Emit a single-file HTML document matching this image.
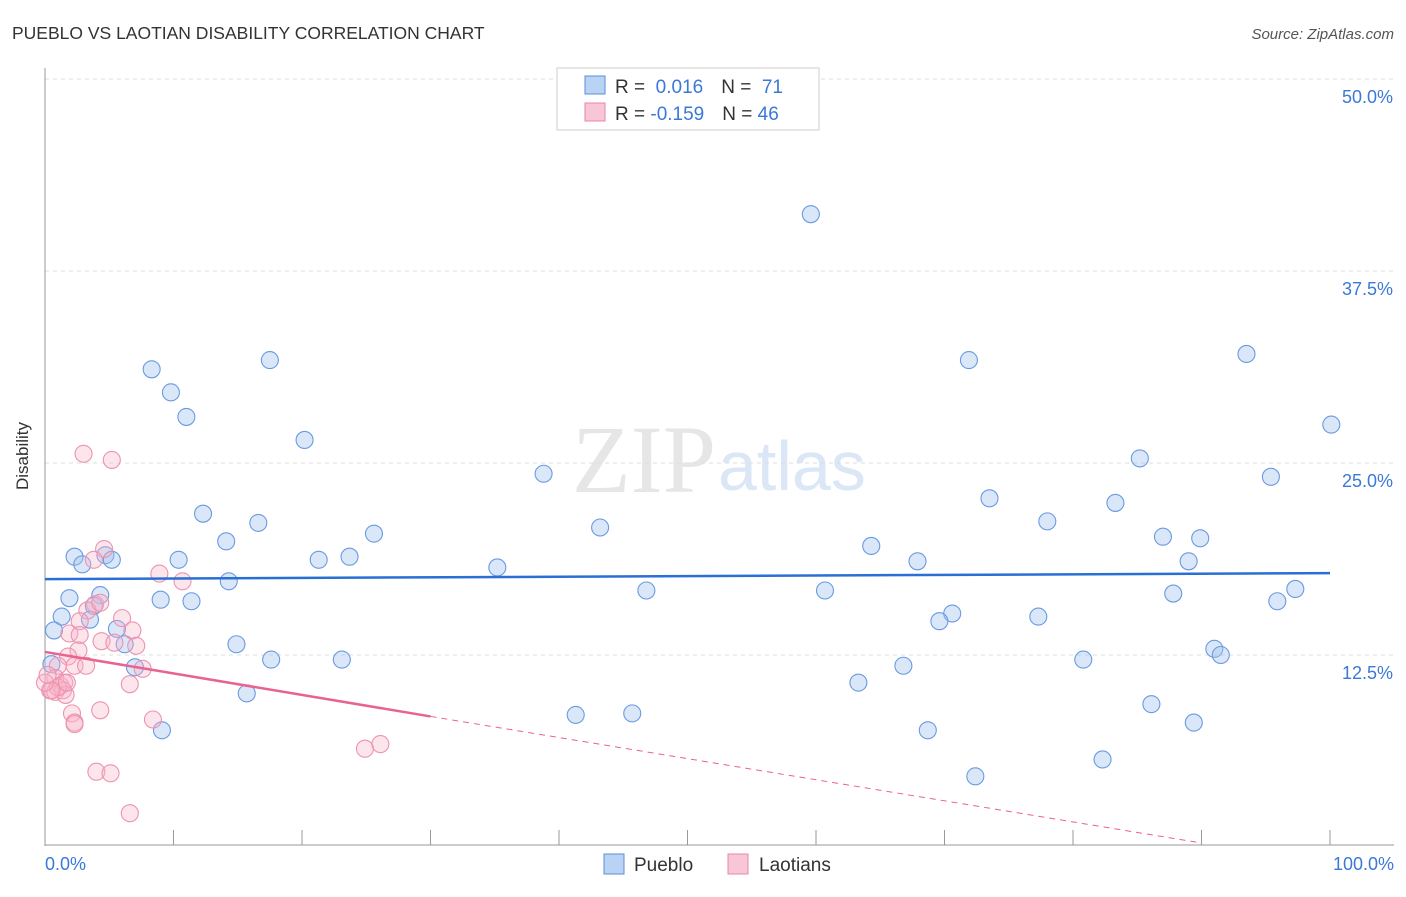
<!DOCTYPE html>
<html><head><meta charset="utf-8"><style>
body{margin:0;background:#fff;font-family:"Liberation Sans",sans-serif}
</style></head><body>
<svg id="c" width="1406" height="892" xmlns="http://www.w3.org/2000/svg" style="font-family:'Liberation Sans',sans-serif">
<text x="12" y="39" font-size="17.5" fill="#333">PUEBLO VS LAOTIAN DISABILITY CORRELATION CHART</text>
<text x="1394" y="39" font-size="15" fill="#555" text-anchor="end" font-style="italic">Source: ZipAtlas.com</text>
<text x="716" y="492" font-size="96" fill="#e6e6e6" text-anchor="end" font-family="Liberation Serif,serif">ZIP</text>
<text x="718" y="490" font-size="70" fill="#dbe6f6">atlas</text>
<g id="grid"></g>
<line x1="45" y1="68" x2="45" y2="846" stroke="#999"/>
<line x1="45" y1="845" x2="1394" y2="845" stroke="#999"/>
<text x="28" y="456" font-size="17" fill="#333" transform="rotate(-90 28 456)" text-anchor="middle">Disability</text>
<text x="45" y="870" font-size="18" fill="#3b78d8">0.0%</text>
<text x="1394" y="870" font-size="18" fill="#3b78d8" text-anchor="end">100.0%</text>
<g id="pts"></g>
<g id="trend"></g>
<g>
<rect x="557" y="68" width="262" height="62" fill="#fff" stroke="#ccc"/>
<rect x="585" y="76" width="20" height="18" fill="#b9d3f5" stroke="#5b8fd8"/>
<rect x="585" y="103" width="20" height="18" fill="#f9c6d6" stroke="#e886a7"/>
<text x="615" y="93" font-size="19" fill="#333">R = <tspan fill="#3b78d8">&#160;0.016</tspan><tspan dx="18">N = </tspan><tspan fill="#3b78d8">&#160;71</tspan></text>
<text x="615" y="120" font-size="19" fill="#333">R = <tspan fill="#3b78d8">-0.159</tspan><tspan dx="18">N = </tspan><tspan fill="#3b78d8">46</tspan></text>
</g>
<g>
<rect x="604" y="854" width="20" height="20" fill="#b9d3f5" stroke="#5b8fd8"/>
<text x="634" y="871" font-size="19" fill="#333">Pueblo</text>
<rect x="728" y="854" width="20" height="20" fill="#f9c6d6" stroke="#e886a7"/>
<text x="759" y="871" font-size="19" fill="#333">Laotians</text>
</g>
</svg>
<script>
const yTicks=[12.5,25,37.5,50];
const blueX=[59.6,8.3,17.5,9.8,11,20.2,71.9,93.5,100.1,38.8,85.2,95.4,73.5,12.3,16.6,78,83.3,43.2,25.6,14.1,87,89.9,2.3,4.7,5.2,2.9,10.4,21.3,23.7,35.2,64.3,67.9,89,14.3,46.8,60.7,87.8,97.3,1.9,4.3,9,11.4,3.8,1.3,3.5,70.6,69.6,77.3,95.9,0.7,5.6,6.2,14.9,91,91.5,17.6,23.1,80.8,0.5,7,66.8,63.3,15.7,41.3,45.7,86.1,9.1,68.7,89.4,72.4,82.3];
const blueY=[41.2,31.1,31.7,29.6,28,26.5,31.7,32.1,27.5,24.3,25.3,24.1,22.7,21.7,21.1,21.2,22.4,20.8,20.4,19.9,20.2,20.1,18.9,19,18.7,18.4,18.7,18.7,18.9,18.2,19.6,18.6,18.6,17.3,16.7,16.7,16.5,16.8,16.2,16.4,16.1,16,15.7,15,14.8,15.2,14.7,15,16,14.1,14.2,13.2,13.2,12.9,12.5,12.2,12.2,12.2,11.9,11.7,11.8,10.7,10,8.6,8.7,9.3,7.6,7.6,8.1,4.6,5.7];
const pinkX=[3,5.2,4.6,3.8,8.9,10.7,3.9,3.3,6,2.7,1.9,2.7,6.8,4.4,5.4,7.1,2.6,1.8,1,2.3,3.2,7.6,0.8,1.2,1.5,0.4,0.8,1.4,1.6,6.6,1,2.1,4.3,8.4,2.3,2.3,24.9,26.1,4,5.1,6.6,0.5,0,0.2,4.3,1.7];
const pinkY=[25.6,25.2,19.4,18.7,17.8,17.3,15.8,15.4,14.9,14.7,13.9,13.8,14.1,13.4,13.3,13.1,12.8,12.4,11.8,11.8,11.8,11.6,11,10.5,10.7,10.2,10.1,10.2,9.9,10.6,10.4,8.7,8.9,8.3,8.1,8,6.4,6.7,4.9,4.8,2.2,10.2,10.7,11.2,15.9,10.7];
const blueTrend=[[0,17.44],[100,17.83]];
const pinkTrendSolid=[[0,12.7],[30,8.5]];
const pinkTrendDash=[[30,8.5],[90,0.26]];
const NS="http://www.w3.org/2000/svg";
const X=v=>45+v*12.85, Y=v=>847-v*15.36;
function mk(t,a,p){const e=document.createElementNS(NS,t);for(const k in a)e.setAttribute(k,a[k]);p.appendChild(e);return e;}
const grid=document.getElementById('grid');
yTicks.forEach(t=>{
 const l=mk('line',{x1:45,x2:1394,y1:Y(t),y2:Y(t),stroke:'#ddd','stroke-dasharray':'4,4'},grid);
 
 
 const tx=mk('text',{x:1393,y:Y(t)+24,'font-size':18,fill:'#3b78d8','text-anchor':'end'},grid);
 tx.textContent=t.toFixed(1)+'%';
 
 
});
for(let k=1;k<=10;k++){
 const l=mk('line',{x1:X(k*10),x2:X(k*10),y1:830,y2:845,stroke:'#999'},grid);
 
 
}
const pts=document.getElementById('pts');
blueX.forEach((v,i)=>{
 const c=mk('circle',{cx:X(v),cy:Y(blueY[i]),r:8.5,fill:'rgba(160,195,240,0.4)',stroke:'#6a9ae0','stroke-width':1.1},pts);
 
 
});
pinkX.forEach((v,i)=>{
 const c=mk('circle',{cx:X(v),cy:Y(pinkY[i]),r:8.5,fill:'rgba(248,180,200,0.35)',stroke:'#ec93b1','stroke-width':1.1},pts);
 
 
});
const tr=document.getElementById('trend');
const b=mk('line',{x1:X(blueTrend[0][0]),y1:Y(blueTrend[0][1]),x2:X(blueTrend[1][0]),y2:Y(blueTrend[1][1]),stroke:'#2a6fd6','stroke-width':2.5},tr);


const p=mk('line',{x1:X(pinkTrendSolid[0][0]),y1:Y(pinkTrendSolid[0][1]),x2:X(pinkTrendSolid[1][0]),y2:Y(pinkTrendSolid[1][1]),stroke:'#e8638f','stroke-width':2.5},tr);


const pd=mk('line',{x1:X(pinkTrendDash[0][0]),y1:Y(pinkTrendDash[0][1]),x2:X(pinkTrendDash[1][0]),y2:Y(pinkTrendDash[1][1]),stroke:'#e8638f','stroke-width':1,'stroke-dasharray':'6,5'},tr);


</script>
</body></html>
